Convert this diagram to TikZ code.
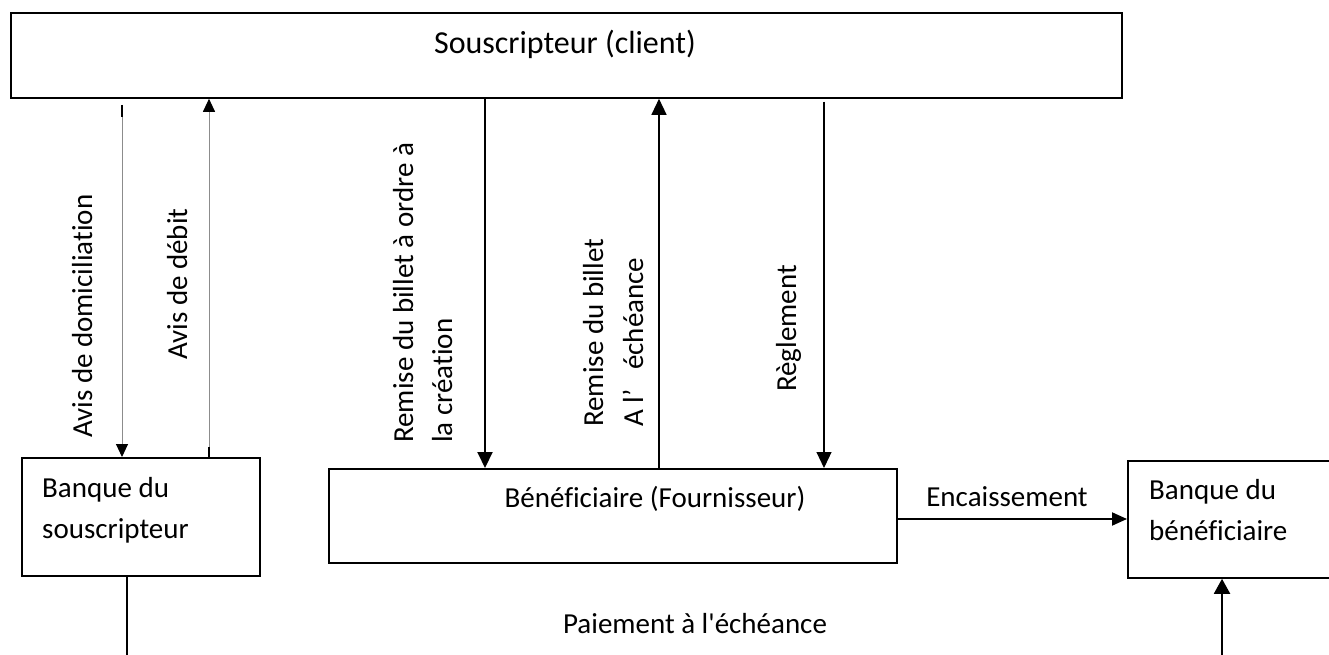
\documentclass[tikz,border=0pt]{standalone}
\usepackage{fontspec}
\newfontfamily\diagfont{Carlito}[Ligatures=NoCommon]
\usetikzlibrary{arrows.meta}
\tikzset{
  box/.style={draw=black, line width=1.8pt, inner sep=0pt, anchor=north west},
  txt/.style={inner sep=0pt, font=\diagfont\fontsize{29}{35}\selectfont},
  bigtxt/.style={inner sep=0pt, font=\diagfont\fontsize{32}{38}\selectfont},
  vtxt/.style={txt, rotate=90, anchor=base west},
  thinarr/.style={draw=black!45, line width=1pt},
  tickmark/.style={draw=black, line width=2pt},
  tipS/.style={-{Triangle[width=12pt,length=13pt,color=black]}},
  tipL/.style={-{Triangle[width=15pt,length=16pt]}},
}
\begin{document}
\begin{tikzpicture}[x=1pt,y=-1pt]
\clip (0,0) rectangle (1329,655);
\fill[white] (0,0) rectangle (1329,655);

% boxes
\node[box, minimum width=1111pt, minimum height=85pt] (top) at (10,12) {};
\node[box, minimum width=238pt, minimum height=118pt] (lb) at (21,457) {};
\node[box, minimum width=568pt, minimum height=94pt] (mb) at (328,468) {};
\node[box, minimum width=230pt, minimum height=117pt] (rb) at (1127,460) {};

% box texts
\node[bigtxt, anchor=base] (ttop) at (565,54) {Souscripteur (client)};
\node[txt, anchor=base west] (tlb1) at (42,497) {Banque du};
\node[txt, anchor=base west] (tlb2) at (42,538) {souscripteur};
\node[txt, anchor=base] (tmb) at (655,507) {Bénéficiaire (Fournisseur)};
\node[txt, anchor=base west] (trb1) at (1149,499) {Banque du};
\node[txt, anchor=base west] (trb2) at (1149,540) {bénéficiaire};

% x positions of vertical connectors
\coordinate (x1) at (122,0);
\coordinate (x2) at (209,0);
\coordinate (x3) at (485,0);
\coordinate (x4) at (659,0);
\coordinate (x5) at (824,0);
\coordinate (ey) at (0,519);
\coordinate (bl) at (127,660);
\coordinate (br) at (1222,660);

% 1: Avis de domiciliation
\draw[thinarr, tipS, shorten <=6pt] (top.south -| x1) -- (lb.north -| x1);
\draw[tickmark] ([yshift=-6pt]top.south -| x1) -- ([yshift=-18pt]top.south -| x1);
% 2: Avis de debit
\draw[thinarr, tipS] (lb.north -| x2) -- (top.south -| x2);
\draw[tickmark] (lb.north -| x2) -- ([yshift=10pt]lb.north -| x2);
% 3: Remise a la creation
\draw[line width=2pt, tipL] (top.south -| x3) -- (mb.north -| x3);
% 4: Remise a l'echeance
\draw[line width=1.3pt, tipL] (mb.north -| x4) -- (top.south -| x4);
\draw[line width=2pt] (mb.north -| x4) -- ([yshift=6pt]mb.north -| x4);
% 5: Reglement
\draw[line width=1.2pt, tipL, shorten <=3pt] (top.south -| x5) -- (mb.north -| x5);
\draw[tickmark] ([yshift=-3pt]top.south -| x5) -- ([yshift=-15pt]top.south -| x5);
% Encaissement
\draw[line width=2pt, -{Triangle[width=13pt,length=15pt]}] (mb.east |- ey) -- (rb.west |- ey);
% bottom lines
\draw[line width=2pt] (lb.south -| bl) -- (bl);
\draw[line width=2pt, -{Triangle[width=16pt,length=15pt]}] (br) -- (rb.south -| br);

% connector labels
\node[vtxt] (l1) at (92,438) {Avis de domiciliation};
\node[vtxt] (l2) at (187,360) {Avis de débit};
\node[vtxt] (l3a) at (413,443) {Remise du billet à ordre à};
\node[vtxt] (l3b) at (452,443) {la création};
\node[vtxt] (l4a) at (603,427) {Remise du billet};
\node[vtxt] (l4b) at (643,427) {A l’~~~échéance};
\node[vtxt] (l5) at (796,392) {Règlement};
\node[txt, anchor=base] (l6) at (1007,506) {Encaissement};
\node[txt, anchor=base] (l7) at (695,633) {Paiement à l'échéance};
\end{tikzpicture}
\end{document}
